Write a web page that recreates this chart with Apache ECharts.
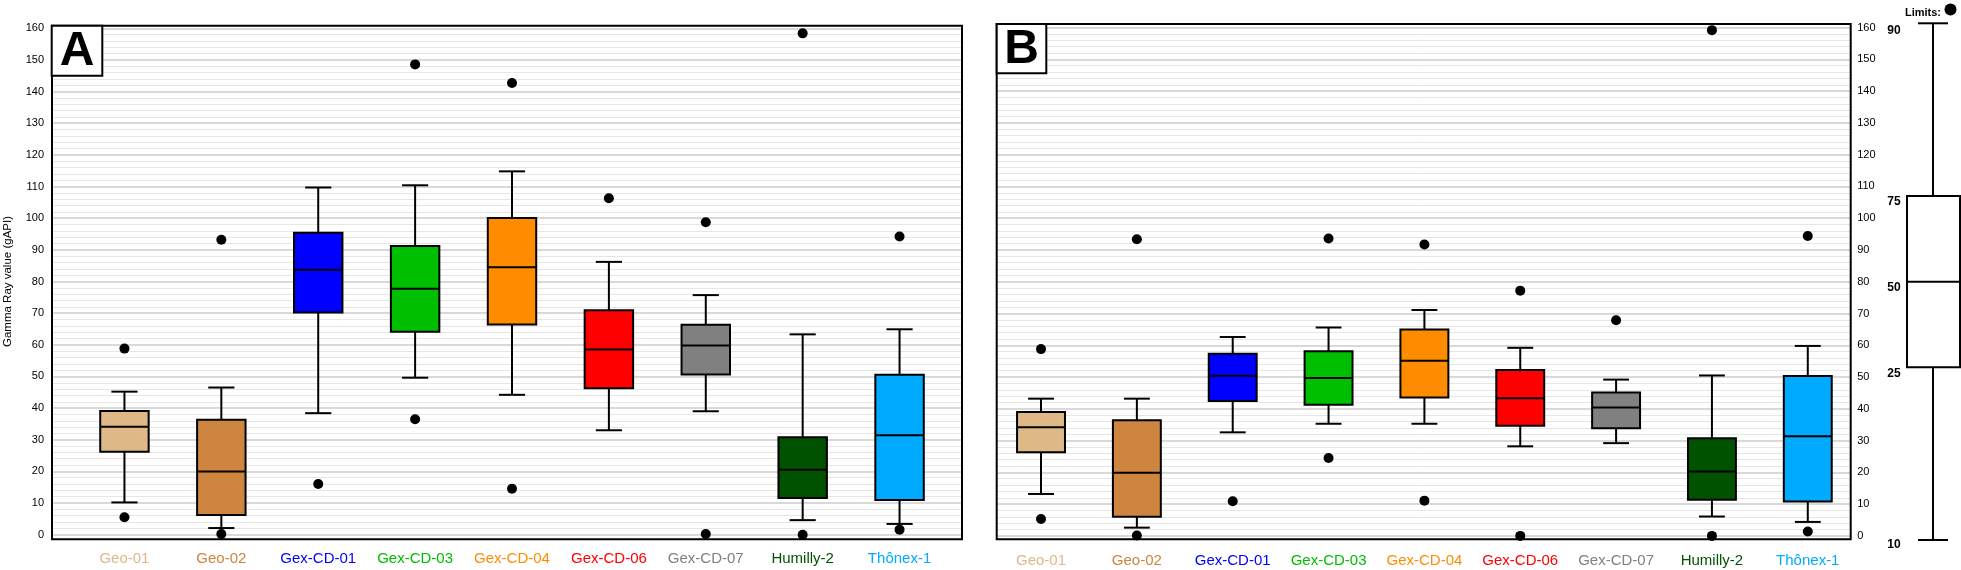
<!DOCTYPE html>
<html>
<head>
<meta charset="utf-8">
<script src="https://cdn.jsdelivr.net/npm/echarts@6/dist/echarts.min.js"></script>
<style>
html,body{margin:0;padding:0;background:#fff;}
#chart{width:1961px;height:570px;}
</style>
</head>
<body>
<div id="chart"></div>
<script>
// ---------------- DATA ----------------
const categories = ['Geo-01','Geo-02','Gex-CD-01','Gex-CD-03','Gex-CD-04','Gex-CD-06','Gex-CD-07','Humilly-2','Thônex-1'];
const catColors = ['#DEB887','#CD853F','#0000FF','#00BE00','#FF8C00','#FF0000','#808080','#005200','#00AAFF'];
const yTicks = [0,10,20,30,40,50,60,70,80,90,100,110,120,130,140,150,160];

// Panel A (percentiles 10/25/50/75/90 and limits)
const A_p10 = [10.2, 2.1, 38.4, 49.6, 44.2, 33.0, 39.0, 4.6, 3.4];
const A_p25 = [26.2, 6.2, 70.2, 64.1, 66.4, 46.3, 50.6, 11.6, 11.0];
const A_p50 = [34.1, 20.0, 83.7, 77.7, 84.5, 58.5, 59.8, 20.5, 31.4];
const A_p75 = [39.1, 36.3, 95.4, 91.2, 100.1, 70.9, 66.3, 30.8, 50.5];
const A_p90 = [45.2, 46.5, 109.7, 110.4, 114.8, 86.2, 75.7, 63.3, 64.9];
const A_min = [5.5, 0.2, 16.0, 36.5, 14.5, null, 0.2, 0.0, 1.6];
const A_max = [58.8, 93.2, null, 148.6, 142.7, 106.3, 98.7, 158.4, 94.2];

// Panel B
const B_p10 = [13.2, 2.6, 32.6, 35.3, 35.3, 28.2, 29.2, 6.1, 4.4];
const B_p25 = [26.3, 6.0, 42.5, 41.3, 43.6, 34.7, 33.9, 11.4, 10.8];
const B_p50 = [34.2, 19.9, 50.4, 49.7, 55.1, 43.3, 40.4, 20.3, 31.4];
const B_p75 = [39.0, 36.4, 57.3, 58.1, 65.0, 52.2, 45.1, 30.7, 50.3];
const B_p90 = [43.2, 43.2, 62.6, 65.6, 71.1, 59.2, 49.2, 50.5, 59.8];
const B_min = [5.3, 0.1, 10.9, 24.5, 11.1, 0.0, null, 0.0, 1.4];
const B_max = [58.8, 93.4, null, 93.6, 91.7, 77.2, 67.9, 159.2, 94.4];

const legendLabels = ['90','75','50','25','10'];
const yTitle = 'Gamma Ray value (gAPI)';

// ---------------- LAYOUT ----------------
const FONT = '"Liberation Sans", Arial, sans-serif';
const L = {
  A: { frame:[52,25.7,962,539.3], bg:{left:52,top:28.3,width:910,height:506.4}, data:{left:76,top:28.3,width:872,height:506.4} },
  B: { frame:[996.7,24,1850.7,539.3], bg:{left:996.7,top:27.6,width:854,height:508.3}, data:{left:993.1,top:27.6,width:862.6,height:508.3} }
};

function rows(p10,p25,p50,p75,p90){
  return categories.map((c,i)=>[i,p10[i],p25[i],p50[i],p75[i],p90[i]]);
}
function dots(mn,mx){
  const out=[];
  categories.forEach((c,i)=>{ if(mn[i]!=null) out.push([c,mn[i]]); if(mx[i]!=null) out.push([c,mx[i]]); });
  return out;
}

function renderBox(params, api){
  const x = api.value(0);
  const color = catColors[x];
  const c10 = api.coord([x, api.value(1)]);
  const c25 = api.coord([x, api.value(2)]);
  const c50 = api.coord([x, api.value(3)]);
  const c75 = api.coord([x, api.value(4)]);
  const c90 = api.coord([x, api.value(5)]);
  const band = api.size([1,0])[0];
  const bw = band*0.5, cw = band*0.27;
  const cx = c50[0];
  const ls = {stroke:'#000', lineWidth:2};
  return {type:'group', children:[
    {type:'line', shape:{x1:cx,y1:c10[1],x2:cx,y2:c25[1]}, style:ls},
    {type:'line', shape:{x1:cx,y1:c75[1],x2:cx,y2:c90[1]}, style:ls},
    {type:'line', shape:{x1:cx-cw/2,y1:c10[1],x2:cx+cw/2,y2:c10[1]}, style:ls},
    {type:'line', shape:{x1:cx-cw/2,y1:c90[1],x2:cx+cw/2,y2:c90[1]}, style:ls},
    {type:'rect', shape:{x:cx-bw/2,y:c75[1],width:bw,height:c25[1]-c75[1]}, style:{fill:color,stroke:'#000',lineWidth:2}},
    {type:'line', shape:{x1:cx-bw/2,y1:c50[1],x2:cx+bw/2,y2:c50[1]}, style:ls}
  ]};
}

const grids = [
  L.A.bg, L.A.data, L.B.bg, L.B.data
];

function bgY(gi, pos){
  return {
    gridIndex: gi, type:'value', min:0, max:160, interval:10, position: pos,
    axisLine:{show:false}, axisTick:{show:false},
    axisLabel:{show:true, color:'#000', fontSize:11, fontFamily:FONT, margin: pos==='left'?8:6.5,
      padding: pos==='left'?0:[6,0,0,0]},
    splitLine:{show:true, lineStyle:{color:'#cccccc', width:1.5}},
    minorTick:{show:false, splitNumber:5},
    minorSplitLine:{show:true, lineStyle:{color:'#e6e6e6', width:1}},
    name: pos==='left'? yTitle : '', nameLocation:'middle', nameGap:38,
    nameTextStyle:{color:'#000', fontSize:11.5, fontFamily:FONT}
  };
}
function dataY(gi){
  return {gridIndex:gi, type:'value', min:0, max:160, interval:10, show:false, splitLine:{show:false}};
}
function dataX(gi){
  return {gridIndex:gi, type:'category', data:categories, boundaryGap:true,
    axisLine:{show:false}, axisTick:{show:false}, splitLine:{show:false},
    axisLabel:{interval:0, fontSize:15, fontFamily:FONT, margin:17, color:(v,i)=>catColors[i]}};
}
function bgX(gi){
  return {gridIndex:gi, type:'value', min:0, max:1, show:false, splitLine:{show:false}};
}

const series = [
  {type:'custom', xAxisIndex:1, yAxisIndex:1, renderItem:renderBox, data:rows(A_p10,A_p25,A_p50,A_p75,A_p90), encode:{x:0,y:[1,2,3,4,5]}, z:3, clip:false},
  {type:'scatter', xAxisIndex:1, yAxisIndex:1, data:dots(A_min,A_max), symbolSize:10, itemStyle:{color:'#000', opacity:1}, z:4, clip:false, silent:true},
  {type:'custom', xAxisIndex:3, yAxisIndex:3, renderItem:renderBox, data:rows(B_p10,B_p25,B_p50,B_p75,B_p90), encode:{x:0,y:[1,2,3,4,5]}, z:3, clip:false},
  {type:'scatter', xAxisIndex:3, yAxisIndex:3, data:dots(B_min,B_max), symbolSize:10, itemStyle:{color:'#000', opacity:1}, z:4, clip:false, silent:true}
];

function frameRect(f){
  return {type:'rect', z:50, shape:{x:f[0],y:f[1],width:f[2]-f[0],height:f[3]-f[1]}, style:{fill:'none',stroke:'#000',lineWidth:2}};
}
function letterBox(x,y,w,h,t){
  return [
    {type:'rect', z:60, shape:{x:x,y:y,width:w,height:h}, style:{fill:'#fff',stroke:'#000',lineWidth:2}},
    {type:'text', z:61, x:x+w/2, y:y+h/2+1, style:{text:t, font:'bold 48px '+FONT, fill:'#000', align:'center', verticalAlign:'middle'}}
  ];
}

// Legend schematic box (far right)
const lg = {cx:1933, capL:1918, capR:1948, top:23.3, q75:196, q50:281.7, q25:367.3, bot:540, boxL:1907, boxR:1960, labX:1894};
const legendY = [30.7, 201.7, 287.3, 373.3, 545];
const legendGraphics = [
  {type:'line', shape:{x1:lg.cx,y1:lg.top,x2:lg.cx,y2:lg.q75}, style:{stroke:'#000',lineWidth:2}},
  {type:'line', shape:{x1:lg.cx,y1:lg.q25,x2:lg.cx,y2:lg.bot}, style:{stroke:'#000',lineWidth:2}},
  {type:'line', shape:{x1:lg.capL,y1:lg.top,x2:lg.capR,y2:lg.top}, style:{stroke:'#000',lineWidth:2}},
  {type:'line', shape:{x1:lg.capL,y1:lg.bot,x2:lg.capR,y2:lg.bot}, style:{stroke:'#000',lineWidth:2}},
  {type:'rect', shape:{x:lg.boxL,y:lg.q75,width:lg.boxR-lg.boxL,height:lg.q25-lg.q75}, style:{fill:'#fff',stroke:'#000',lineWidth:2}},
  {type:'line', shape:{x1:lg.boxL,y1:lg.q50,x2:lg.boxR,y2:lg.q50}, style:{stroke:'#000',lineWidth:2}},
  {type:'text', x:1941, y:12.7, style:{text:'Limits:', font:'bold 11px '+FONT, fill:'#000', align:'right', verticalAlign:'middle'}},
  {type:'circle', shape:{cx:1950.5,cy:9.5,r:6}, style:{fill:'#000'}}
].concat(legendLabels.map((t,i)=>({type:'text', x:lg.labX, y:legendY[i], style:{text:t, font:'bold 12px '+FONT, fill:'#000', align:'center', verticalAlign:'middle'}})));

const option = {
  animation:false,
  backgroundColor:'#fff',
  textStyle:{fontFamily:FONT},
  grid: grids.map(g=>Object.assign({containLabel:false}, g)),
  xAxis:[bgX(0), dataX(1), bgX(2), dataX(3)],
  yAxis:[bgY(0,'left'), dataY(1), bgY(2,'right'), dataY(3)],
  series: series,
  graphic: [frameRect(L.A.frame), frameRect(L.B.frame)]
    .concat(letterBox(51.7,25.7,50.6,50,'A'))
    .concat(letterBox(996.7,24,49.6,49.3,'B'))
    .concat(legendGraphics)
};

const chart = echarts.init(document.getElementById('chart'), null, {renderer:'canvas'});
chart.setOption(option);
</script>
</body>
</html>
